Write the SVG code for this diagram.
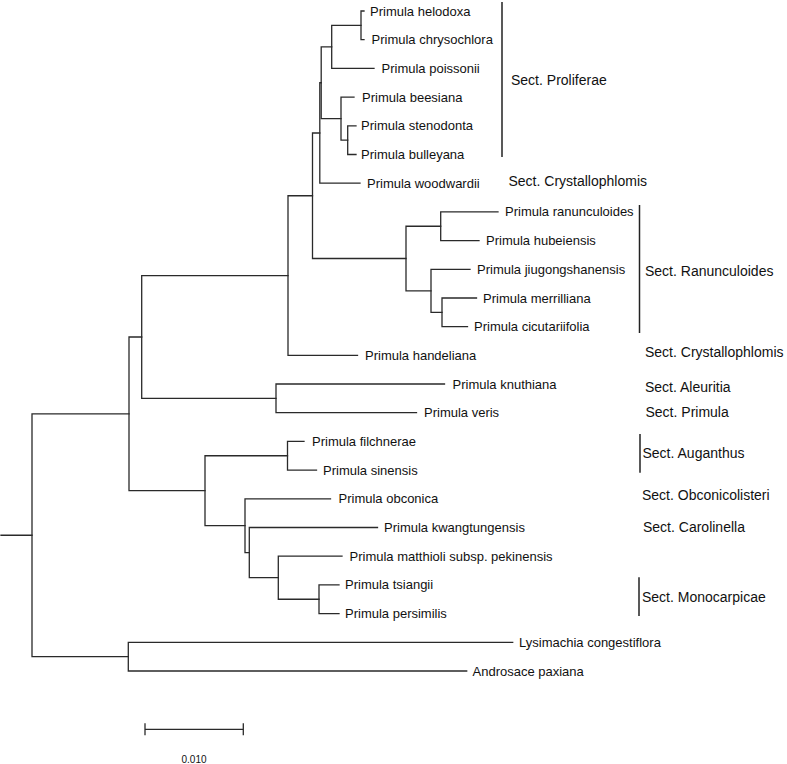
<svg xmlns="http://www.w3.org/2000/svg" width="787" height="764" viewBox="0 0 787 764">
<style>
.br{fill:none;stroke:#2a2a2a;stroke-width:1.3;stroke-linecap:square}
.bar{stroke:#222;stroke-width:1.5}
.lf{font-family:"Liberation Sans",Arial,sans-serif;font-size:13px;fill:#111}
.sc{font-family:"Liberation Sans",Arial,sans-serif;font-size:14px;fill:#111}
.sb{font-family:"Liberation Sans",Arial,sans-serif;font-size:10px;fill:#111}
</style>
<rect width="787" height="764" fill="#fff"/>
<g id="connectors">
<path class="br" d="M364 11 H361 V39.7 H364"/>
<path class="br" d="M361 25.35 H331.7 V68.4 H374"/>
<path class="br" d="M356 125.8 H347.7 V154.5 H356"/>
<path class="br" d="M354 97.1 H341 V140.15 H347.7"/>
<path class="br" d="M331.7 46.9 H321.2 V118.6 H341"/>
<path class="br" d="M321.2 82.75 H319.8 V183.2 H360"/>
<path class="br" d="M498 211.9 H440.7 V240.6 H479"/>
<path class="br" d="M476.5 298 H442 V326.7 H467.5"/>
<path class="br" d="M470 269.3 H431 V312.35 H442"/>
<path class="br" d="M440.7 226.25 H406 V290.8 H431"/>
<path class="br" d="M319.8 133 H312.5 V258.5 H406"/>
<path class="br" d="M312.5 195.75 H288 V355.4 H357.5"/>
<path class="br" d="M444.5 384 H276 V412.7 H416.5"/>
<path class="br" d="M288 275.6 H141.7 V398.35 H276"/>
<path class="br" d="M304 441.4 H287.5 V470.1 H316.5"/>
<path class="br" d="M339 584.9 H319 V613.6 H339"/>
<path class="br" d="M342 556.2 H278.3 V599.25 H319"/>
<path class="br" d="M377.5 527.5 H249.3 V577.7 H278.3"/>
<path class="br" d="M330.5 498.8 H245 V552.6 H249.3"/>
<path class="br" d="M287.5 455.75 H205 V525.7 H245"/>
<path class="br" d="M141.7 337 H129 V490.7 H205"/>
<path class="br" d="M512.7 642.3 H128.3 V671 H466.7"/>
<path class="br" d="M129 413.85 H32 V656.65 H128.3"/>
<path class="br" d="M1 535.25 H32"/>
</g>
<g id="taxa">
<g id="t-helodoxa"><text class="lf" x="370" y="15.5">Primula helodoxa</text></g>
<g id="t-chrysochlora"><text class="lf" x="371.5" y="44.2">Primula chrysochlora</text></g>
<g id="t-poissonii"><text class="lf" x="381.5" y="72.9">Primula poissonii</text></g>
<g id="t-beesiana"><text class="lf" x="362" y="101.6">Primula beesiana</text></g>
<g id="t-stenodonta"><text class="lf" x="361" y="130.3">Primula stenodonta</text></g>
<g id="t-bulleyana"><text class="lf" x="361" y="159">Primula bulleyana</text></g>
<g id="t-woodwardii"><text class="lf" x="367" y="187.7">Primula woodwardii</text></g>
<g id="t-ranunculoides"><text class="lf" x="505" y="216.4">Primula ranunculoides</text></g>
<g id="t-hubeiensis"><text class="lf" x="486" y="245.1">Primula hubeiensis</text></g>
<g id="t-jiugongshanensis"><text class="lf" x="477" y="273.8">Primula jiugongshanensis</text></g>
<g id="t-merrilliana"><text class="lf" x="483" y="302.5">Primula merrilliana</text></g>
<g id="t-cicutariifolia"><text class="lf" x="474" y="331.2">Primula cicutariifolia</text></g>
<g id="t-handeliana"><text class="lf" x="365" y="359.9">Primula handeliana</text></g>
<g id="t-knuthiana"><text class="lf" x="452.5" y="388.5">Primula knuthiana</text></g>
<g id="t-veris"><text class="lf" x="424" y="417.2">Primula veris</text></g>
<g id="t-filchnerae"><text class="lf" x="312" y="445.9">Primula filchnerae</text></g>
<g id="t-sinensis"><text class="lf" x="323" y="474.6">Primula sinensis</text></g>
<g id="t-obconica"><text class="lf" x="338.5" y="503.3">Primula obconica</text></g>
<g id="t-kwangtungensis"><text class="lf" x="384" y="532">Primula kwangtungensis</text></g>
<g id="t-matthioli"><text class="lf" x="349.5" y="560.7">Primula matthioli subsp. pekinensis</text></g>
<g id="t-tsiangii"><text class="lf" x="345" y="589.4">Primula tsiangii</text></g>
<g id="t-persimilis"><text class="lf" x="345" y="618.1">Primula persimilis</text></g>
<g id="t-lysimachia"><text class="lf" x="519" y="646.8">Lysimachia congestiflora</text></g>
<g id="t-androsace"><text class="lf" x="472.5" y="675.5">Androsace paxiana</text></g>
</g>
<g id="sections">
<g id="s-proliferae"><line class="bar" x1="502" y1="2" x2="502" y2="157"/><text class="sc" x="511" y="85">Sect. Proliferae</text></g>
<g id="s-crystallophlomis-1"><text class="sc" x="508.5" y="185.5">Sect. Crystallophlomis</text></g>
<g id="s-ranunculoides"><line class="bar" x1="639.5" y1="205" x2="639.5" y2="333"/><text class="sc" x="645" y="276">Sect. Ranunculoides</text></g>
<g id="s-crystallophlomis-2"><text class="sc" x="645" y="357">Sect. Crystallophlomis</text></g>
<g id="s-aleuritia"><text class="sc" x="645" y="392">Sect. Aleuritia</text></g>
<g id="s-primula"><text class="sc" x="645.5" y="417">Sect. Primula</text></g>
<g id="s-auganthus"><line class="bar" x1="640" y1="434" x2="640" y2="472.7"/><text class="sc" x="642.5" y="458">Sect. Auganthus</text></g>
<g id="s-obconicolisteri"><text class="sc" x="642" y="500">Sect. Obconicolisteri</text></g>
<g id="s-carolinella"><text class="sc" x="643" y="531.5">Sect. Carolinella</text></g>
<g id="s-monocarpicae"><line class="bar" x1="639" y1="577.3" x2="639" y2="616"/><text class="sc" x="642" y="602">Sect. Monocarpicae</text></g>
</g>
<g id="scale-bar">
<path class="br" d="M145 729.3 H243.3 M145 724 V734.5 M243.3 724 V734.5"/>
<text class="sb" x="194" y="763" text-anchor="middle">0.010</text>
</g>
</svg>
